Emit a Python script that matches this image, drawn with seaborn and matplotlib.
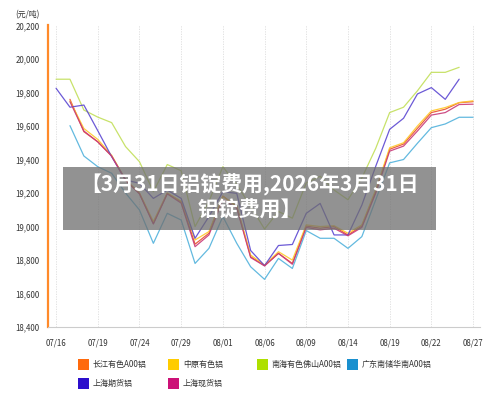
import numpy as np
import pandas as pd
import matplotlib
matplotlib.use("Agg")
import matplotlib.pyplot as plt
import seaborn as sns
from matplotlib.patches import Rectangle

# 交易日（07/16 - 08/27）
dates = ["07/16", "07/17", "07/18", "07/19", "07/22", "07/23", "07/24", "07/25",
         "07/26", "07/29", "07/30", "07/31", "08/01", "08/02", "08/05", "08/06",
         "08/07", "08/08", "08/09", "08/12", "08/13", "08/14", "08/15", "08/16",
         "08/19", "08/20", "08/21", "08/22", "08/23", "08/26", "08/27"]
tick_labels = ["07/16", "07/19", "07/24", "07/29", "08/01", "08/06",
               "08/09", "08/14", "08/19", "08/22", "08/27"]

nan = np.nan
changjiang = [nan, 19759, 19566, 19506, 19421, 19278, 19198, 19019, 19198, 19148,
              18895, 18960, 19182, 19119, 18820, 18767, 18840, 18780, 19003, 18990,
              19000, 18950, 19003, 19208, 19461, 19492, 19586, 19680, 19700, 19739, 19745]
zhongyuan = [nan, 19750, 19585, 19520, 19425, 19280, 19200, 19030, 19200, 19150,
             18920, 18970, 19180, 19120, 18830, 18770, 18850, 18800, 19010, 19000,
             19005, 18960, 19010, 19220, 19470, 19500, 19600, 19690, 19710, 19740, 19750]
nanhai = [19879, 19879, 19695, 19653, 19620, 19477, 19387, 19208, 19370, 19333,
          19000, 19150, 19357, 19250, 19120, 18985, 19090, 19050, 19260, 19300,
          19218, 19160, 19290, 19467, 19680, 19712, 19810, 19920, 19920, 19950, nan]
guangdong = [nan, 19602, 19421, 19357, 19318, 19200, 19099, 18900, 19079, 19039,
             18780, 18870, 19060, 18900, 18760, 18685, 18810, 18750, 18976, 18930,
             18930, 18870, 18940, 19160, 19380, 19400, 19497, 19590, 19612, 19652, 19652]
shfe = [19825, 19712, 19725, 19572, 19417, 19278, 19258, 19168, 19218, 19168,
        18930, 19060, 19208, 19198, 18857, 18767, 18887, 18893, 19079, 19138,
        18950, 18950, 19128, 19360, 19580, 19646, 19791, 19829, 19759, 19879, nan]
shxh = [nan, 19745, 19570, 19505, 19420, 19275, 19195, 19015, 19195, 19140,
        18880, 18950, 19160, 19110, 18815, 18765, 18840, 18775, 18995, 18980,
        18990, 18945, 18995, 19200, 19450, 19480, 19570, 19665, 19680, 19728, 19730]

names = ["长江有色A00铝", "中原有色铝", "南海有色佛山A00铝", "广东南储华南A00铝", "上海期货铝", "上海现货铝"]
series = [changjiang, zhongyuan, nanhai, guangdong, shfe, shxh]
legend_colors = ["#ff6a0d", "#ffcc00", "#aee000", "#1a90cf", "#2c0fcc", "#cc1177"]
line_colors = ["#e8502e", "#ffc828", "#c2df5a", "#52b2dc", "#5c48d2", "#c83a78"]

rows = []
for name, vals in zip(names, series):
    for i, v in enumerate(vals):
        rows.append({"idx": i, "date": dates[i], "price": v, "name": name})
df = pd.DataFrame(rows).dropna()

sns.set_style("white")
plt.rcParams["font.family"] = ["Noto Sans CJK SC", "DejaVu Sans"]

fig = plt.figure(figsize=(5, 3.97), dpi=100)
ax = fig.add_axes([0.096, 0.176, 0.864, 0.760])

sns.lineplot(data=df, x="idx", y="price", hue="name", hue_order=names,
             palette=dict(zip(names, line_colors)), linewidth=0.9, alpha=0.9,
             legend=False, ax=ax, sort=False)

ax.set_xlim(-0.58, 30.5)
ax.set_ylim(18400, 20200)
ax.set_yticks(np.arange(18400, 20201, 200))
ax.set_yticklabels([f"{v:,}" for v in range(18400, 20201, 200)], fontsize=5.7, color="#333333")
xt = [dates.index(t) for t in tick_labels]
ax.set_xticks(xt)
ax.set_xticklabels(tick_labels, fontsize=5.7, color="#333333")
ax.set_xlabel("")
ax.set_ylabel("")
for x in xt:
    ax.axvline(x, color="#dddddd", linestyle=(0, (1.5, 1.5)), linewidth=0.6, zorder=0)

for s in ["top", "right"]:
    ax.spines[s].set_visible(False)
ax.spines["left"].set_color("#ff8a2a")
ax.spines["left"].set_linewidth(1.6)
ax.spines["bottom"].set_color("#cccccc")
ax.spines["bottom"].set_linewidth(0.8)
ax.tick_params(axis="y", length=3, width=1.0, color="#ff8a2a", pad=3)
ax.tick_params(axis="x", length=3, width=0.6, color="#cccccc", pad=5)

fig.text(0.03, 0.975, "(元/吨)", fontsize=5.7, color="#333333", va="top")

# 图例
leg_x = [78, 168, 257, 347]
leg_y = [364, 383]
pos = [(0, 0), (0, 1), (0, 2), (0, 3), (1, 0), (1, 1)]
for (r, c), name, col in zip(pos, names, legend_colors):
    x0 = leg_x[c] / 500
    y0 = 1 - leg_y[r] / 397
    fig.patches.append(Rectangle((x0, y0 - 5.5 / 397), 11 / 500, 11 / 397,
                                 transform=fig.transFigure, facecolor=col,
                                 edgecolor="none"))
    fig.text(x0 + 15 / 500, y0, name, fontsize=5.8, color="#333333", va="center")

# 标题横幅
fig.patches.append(Rectangle((63 / 500, 1 - 230 / 397), 373 / 500, 63.5 / 397,
                             transform=fig.transFigure, facecolor="#6e6e6e",
                             alpha=0.75, edgecolor="none", zorder=5))
fig.text(0.5, 1 - 185 / 397, "【3月31日铝锭费用,2026年3月31日", fontsize=15,
         fontweight="bold", color="white", ha="center", va="center", zorder=6)
fig.text(0.5, 1 - 210.5 / 397, "铝锭费用】", fontsize=15,
         fontweight="bold", color="white", ha="center", va="center", zorder=6)

fig.savefig("out.png", dpi=100)
